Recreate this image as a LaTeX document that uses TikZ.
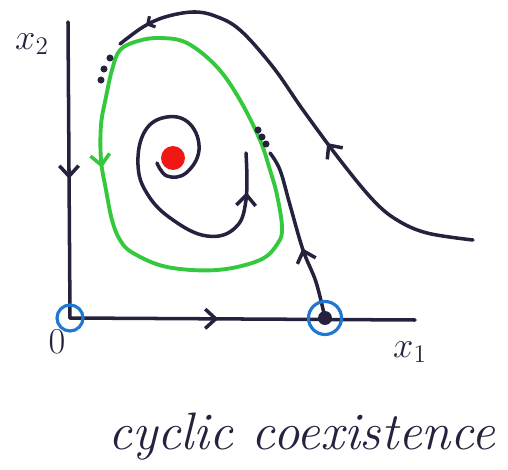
\documentclass[tikz,border=0pt]{standalone}
\usepackage{tikz}
\usetikzlibrary{arrows.meta,decorations.markings}
\definecolor{ink}{RGB}{38,34,62}
\definecolor{cyclegreen}{RGB}{52,200,60}
\definecolor{eqblue}{RGB}{30,120,210}
\definecolor{focusred}{RGB}{238,24,20}

\begin{document}
\begin{tikzpicture}[
  x=0.02cm, y=-0.02cm,
  orbit/.style={color=ink, line width=2pt, line cap=round, line join=round},
  limitcycle/.style={color=cyclegreen, line width=2.2pt},
  midarrow/.style={postaction={decorate, decoration={markings,
      mark=at position #1 with {\arrow{Straight Barb[length=6pt, width=11pt, line width=2pt]}}}}},
  tickarrow/.style={postaction={decorate, decoration={markings,
      mark=at position #1 with {\arrow{Straight Barb[length=3pt, width=7pt, line width=1.8pt]}}}}},
  equil/.style={circle, draw=eqblue, line width=1.8pt, inner sep=0pt},
  seed/.style={circle, fill=ink, minimum size=4pt, inner sep=0pt},
  hand/.style={font=\huge, text=ink}
]
\useasboundingbox (0,0) rectangle (508,470);

% points of the phase plane
\coordinate (origin) at (70,318);
\coordinate (saddle) at (325,318);
\coordinate (ytop) at (68,22);
\coordinate (xend) at (415,320);

% axes
\draw[orbit, midarrow=0.53] (ytop) -- (origin);
\draw[orbit, midarrow=0.43] (origin) -- (xend);

% limit cycle
\draw[limitcycle, midarrow=0.21] plot[smooth cycle, tension=0.6] coordinates {
  (160,38) (138,41) (120,50) (112,70) (106,97) (101,125) (101,160) (106,190)
  (112,220) (120,240) (133,253) (167,267) (217,270) (260,260) (278,243)
  (282,227) (277,195) (270,170) (260,140) (240,100) (217,67) (187,43)};

% spiral out of the focus
\draw[orbit, midarrow=0.9] plot[smooth, tension=0.7] coordinates {
  (157,163) (167,176) (186,173) (199,150) (190,124) (167,117) (145,131)
  (138,165) (148,195) (173,220) (207,236) (235,228) (246,200) (246,153)};

% outer orbit
\draw[orbit, midarrow=0.4, tickarrow=0.93] plot[smooth, tension=0.6] coordinates {
  (473,240) (427,233) (397,220) (373,200) (340,160) (303,110) (273,67)
  (240,30) (215,16) (193,12) (165,17) (143,27) (120,44)};

% branch out of the saddle
\draw[orbit, midarrow=0.42] plot[smooth, tension=0.6] coordinates {
  (saddle) (316,282) (303,250) (290,205) (280,170) (270,153)};

% dots
\node[seed] (d1) at (110,58) {};
\node[seed] (d2) at (104,69) {};
\node[seed] (d3) at (101,80) {};
\node[seed] (d4) at (258,130) {};
\node[seed] (d5) at (262,137) {};
\node[seed] (d6) at (266,144) {};

% equilibria
\node[equil, minimum size=0.52cm] (zero) at (origin) {};
\node[equil, minimum size=0.66cm] (coex) at (saddle) {};
\node[circle, fill=ink, minimum size=0.28cm, inner sep=0pt] (coexdot) at (saddle) {};
\node[circle, fill=focusred, minimum size=0.48cm, inner sep=0pt] (focus) at (173,158) {};

% labels
\node[hand] (lx2) at (32,44) {$x_2$};
\node[hand] (lx1) at (410,352) {$x_1$};
\node[hand] (lzero) at (57,342) {$0$};
\node[text=ink, font=\fontsize{30}{34}\selectfont\itshape] (title) at (302,437) {cyclic coexistence};
\end{tikzpicture}
\end{document}
